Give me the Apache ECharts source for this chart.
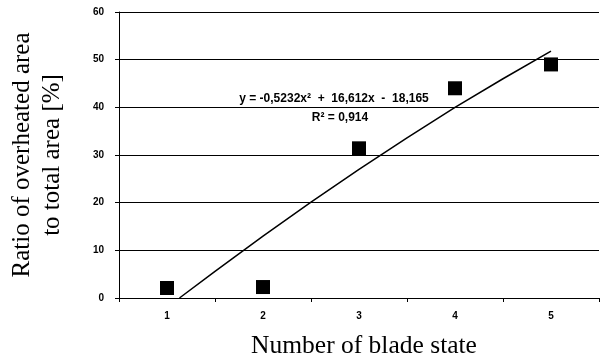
<!DOCTYPE html>
<html><head><meta charset="utf-8">
<script src="https://cdn.jsdelivr.net/npm/echarts@6/dist/echarts.min.js"></script>
<style>html,body{margin:0;padding:0;background:#fff}#c{width:600px;height:356px}</style>
</head><body><div id="c"></div>
<script>
var categories = ['1','2','3','4','5'];
var stateX = [1, 2, 3, 4, 5];
var ratioValues = [2.1, 2.3, 31.4, 44.0, 49.0];
var trendX = [1.13, 1.5, 2, 2.5, 3, 3.5, 4, 4.5, 5];
var trendY = [0, 5.6, 13.0, 20.1, 27.0, 33.6, 40.0, 46.0, 51.8];
var yTicks = [0, 10, 20, 30, 40, 50, 60];

var chart = echarts.init(document.getElementById('c'));
var lab = {fontFamily:'Liberation Sans', fontWeight:'bold', fontSize:10, color:'#000'};
chart.setOption({
  animation:false,
  grid:{left:119, top:12, right:1, bottom:58, containLabel:false, outerBoundsMode:'none'},
  xAxis:[{
    type:'category', data:categories, boundaryGap:true,
    axisLine:{lineStyle:{color:'#000', width:1}},
    axisTick:{show:true, alignWithLabel:false, length:4, lineStyle:{color:'#000'}},
    axisLabel:Object.assign({margin:13}, lab),
    name:'Number of blade state', nameLocation:'middle', nameGap:35,
    nameTextStyle:{fontFamily:'Liberation Serif', fontSize:25.5, color:'#000', padding:[0,0,0,10]}
  },{
    type:'value', min:0.5, max:5.5, show:false
  }],
  yAxis:{
    type:'value', min:0, max:60, interval:10,
    axisLine:{show:true, lineStyle:{color:'#000'}},
    axisTick:{show:true, length:4, lineStyle:{color:'#000'}},
    axisLabel:Object.assign({margin:15}, lab),
    splitLine:{lineStyle:{color:'#000', width:1}},
    name:'Ratio of overheated area\nto total area [%]', nameLocation:'middle', nameGap:52,
    nameTextStyle:{fontFamily:'Liberation Serif', fontSize:25, color:'#000', lineHeight:30}
  },
  graphic:[{
    type:'text', x:334, y:99,
    style:{
      text:'y = -0,5232x\u00b2  +  16,612x  -  18,165',
      align:'center', verticalAlign:'middle',
      font:'bold 12px "Liberation Sans"', fill:'#000'
    }
  },{
    type:'text', x:340, y:118,
    style:{
      text:'R\u00b2 = 0,914',
      align:'center', verticalAlign:'middle',
      font:'bold 12px "Liberation Sans"', fill:'#000'
    }
  }],
  series:[{
    type:'line', xAxisIndex:1,
    data:trendX.map(function(x,i){return [x, trendY[i]];}),
    showSymbol:false, symbol:'none', smooth:false,
    lineStyle:{color:'#000', width:1.5}, z:3
  },{
    type:'scatter', xAxisIndex:1,
    data:stateX.map(function(x,i){return [x, ratioValues[i]];}),
    symbol:'rect', symbolSize:14, itemStyle:{color:'#000', opacity:1}, z:4
  }]
});
</script></body></html>
